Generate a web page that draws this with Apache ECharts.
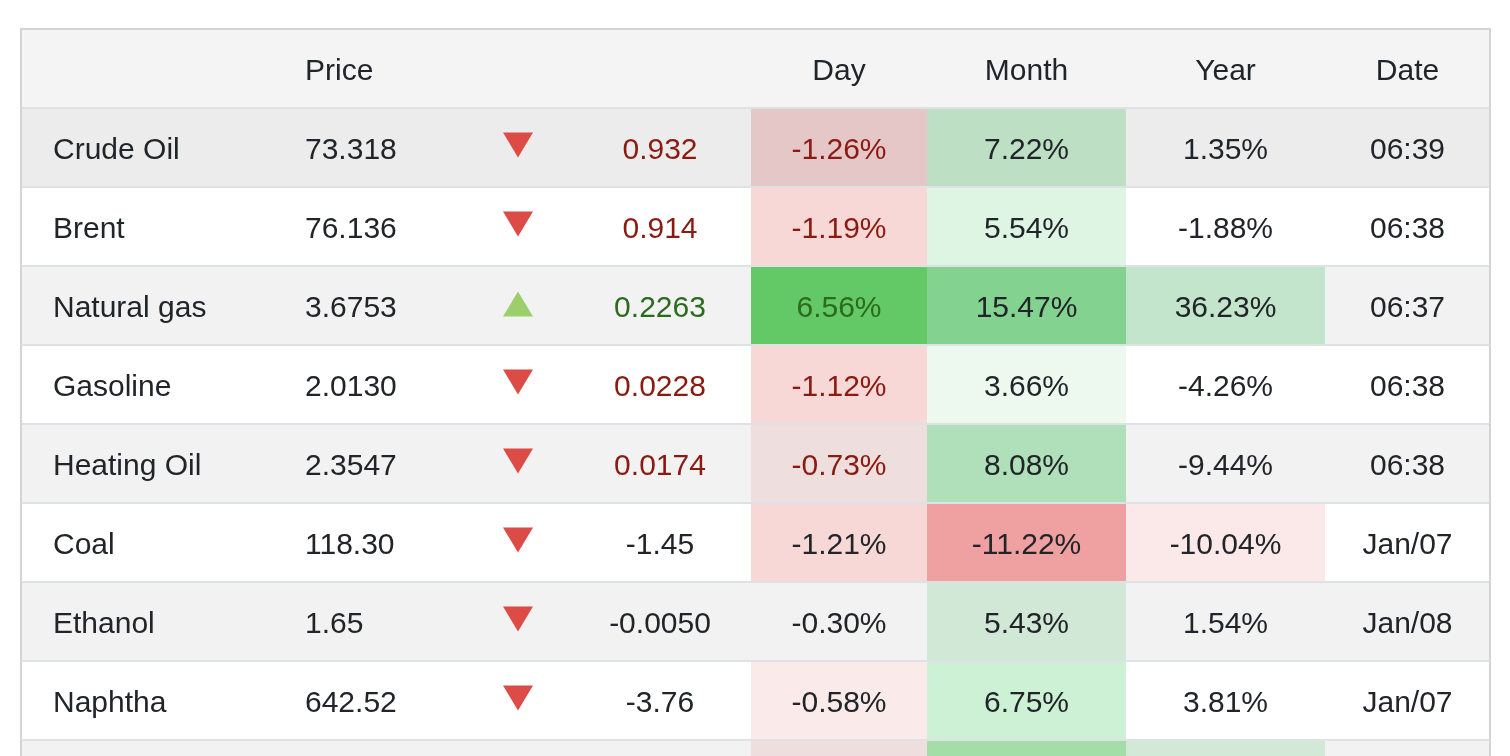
<!DOCTYPE html>
<html>
<head>
<meta charset="utf-8">
<script src="https://cdn.jsdelivr.net/npm/echarts@6/dist/echarts.min.js"></script>
<style>html,body{margin:0;padding:0;background:#fff}#c{width:1510px;height:756px}</style>
</head>
<body>
<div id="c"></div>
<script>
// ---- data ----
const headers = ['', 'Price', '', '', 'Day', 'Month', 'Year', 'Date'];
const names = ['Crude Oil', 'Brent', 'Natural gas', 'Gasoline', 'Heating Oil', 'Coal', 'Ethanol', 'Naphtha', 'Propane'];
const prices = ['73.318', '76.136', '3.6753', '2.0130', '2.3547', '118.30', '1.65', '642.52', '0.68'];
const changes = ['0.932', '0.914', '0.2263', '0.0228', '0.0174', '-1.45', '-0.0050', '-3.76', '-0.0045'];
const dayPct = [-1.26, -1.19, 6.56, -1.12, -0.73, -1.21, -0.30, -0.58, -0.65];
const monthPct = [7.22, 5.54, 15.47, 3.66, 8.08, -11.22, 5.43, 6.75, 9.60];
const yearPct = [1.35, -1.88, 36.23, -4.26, -9.44, -10.04, 1.54, 3.81, 14.20];
const dates = ['06:39', '06:38', '06:37', '06:38', '06:38', 'Jan/07', 'Jan/08', 'Jan/07', 'Jan/07'];
const updated = [true, true, true, true, true, false, false, false, false];
const hoverRow = 0;

// ---- layout / styles ----
const colWidths = [252, 194, 102, 182, 176, 199, 199, 165];
const edges = [0];
colWidths.forEach(w => edges.push(edges[edges.length - 1] + w));
const totalW = edges[edges.length - 1];
const GRID_TOP = 29, ROW_H = 79, CANVAS_H = 756, TEXT_DY = 3;
const visibleRows = (CANVAS_H - GRID_TOP) / ROW_H;
const FONT = '"Liberation Sans", Arial, Helvetica, sans-serif';
const TXT = '#212529', RED_TXT = '#8b1a10', GREEN_TXT = '#2c6a1d';

function dayColor(v) {
  if (v <= -1) return '#f8d7d7';
  if (v <= -0.5) return '#fbeaea';
  if (v >= 5) return '#69d46c';
  return null;
}
function monthColor(v) {
  if (v <= -10) return '#efa0a0';
  if (v >= 12) return '#8bde97';
  if (v >= 9) return '#aceab2';
  if (v >= 7.5) return '#baecc4';
  if (v >= 6.5) return '#cdf1d4';
  if (v >= 5) return '#def5e3';
  if (v >= 3) return '#edf9ef';
  return null;
}
function yearColor(v) {
  if (v <= -10) return '#fbe9e9';
  if (v >= 30) return '#cdf2d6';
  if (v >= 10) return '#def6e4';
  return null;
}
const pct = v => v.toFixed(2) + '%';

const rows = [0].concat(names.map((_, i) => i + 1));

function txt(x, y, s, align, fill) {
  return { type: 'text', x: x, y: y + TEXT_DY, style: { text: s, font: '30px ' + FONT, fill: fill || TXT, align: align, verticalAlign: 'middle' } };
}

function renderItem(params, api) {
  const r = api.value(0);
  const top = api.coord([0, r])[1];
  const bottom = api.coord([0, r + 1])[1];
  const h = bottom - top, mid = top + h / 2;
  const xs = edges.map(e => api.coord([e, r])[0]);
  const ch = [];
  ch.push({ type: 'rect', shape: { x: xs[0], y: top, width: xs[8] - xs[0], height: h }, style: { fill: r === 0 ? '#f4f4f4' : '#ffffff' } });
  const center = k => (xs[k] + xs[k + 1]) / 2;
  if (r === 0) {
    headers.forEach((hd, k) => {
      if (!hd) return;
      if (k === 1) ch.push(txt(xs[k] + 32, mid, hd, 'left'));
      else ch.push(txt(center(k), mid, hd, 'center'));
    });
  } else {
    const i = r - 1;
    [[4, dayColor(dayPct[i])], [5, monthColor(monthPct[i])], [6, yearColor(yearPct[i])]].forEach(([k, f]) => {
      if (f) ch.push({ type: 'rect', shape: { x: xs[k], y: top, width: xs[k + 1] - xs[k], height: h }, style: { fill: f } });
    });
    let a = 0;
    if (i === hoverRow) a = 0.075; else if (i % 2 === 0) a = 0.05;
    if (a) ch.push({ type: 'rect', shape: { x: xs[0], y: top, width: xs[8] - xs[0], height: h }, style: { fill: 'rgba(0,0,0,' + a + ')' } });
    const up = dayPct[i] > 0;
    const accent = updated[i] ? (up ? GREEN_TXT : RED_TXT) : TXT;
    const ax = center(2);
    if (up) {
      const cy = mid - 1;
      ch.push({ type: 'polygon', shape: { points: [[ax, cy - 13], [ax - 15, cy + 12], [ax + 15, cy + 12]] }, style: { fill: '#9ccf6c' } });
    } else {
      const cy = mid - 2;
      ch.push({ type: 'polygon', shape: { points: [[ax - 15, cy - 13], [ax + 15, cy - 13], [ax, cy + 12]] }, style: { fill: '#dc4b45' } });
    }
    ch.push(txt(xs[0] + 32, mid, names[i], 'left'));
    ch.push(txt(xs[1] + 32, mid, prices[i], 'left'));
    ch.push(txt(center(3), mid, changes[i], 'center', accent));
    ch.push(txt(center(4), mid, pct(dayPct[i]), 'center', accent));
    ch.push(txt(center(5), mid, pct(monthPct[i]), 'center'));
    ch.push(txt(center(6), mid, pct(yearPct[i]), 'center'));
    ch.push(txt(center(7), mid, dates[i], 'center'));
    ch.push({ type: 'line', shape: { x1: xs[0], y1: top, x2: xs[8], y2: top }, style: { stroke: '#dee2e6', lineWidth: 2 } });
  }
  if (r === 0) ch.push({ type: 'line', shape: { x1: xs[0] - 1, y1: top, x2: xs[8] + 1, y2: top }, style: { stroke: '#d4d4d4', lineWidth: 2 } });
  ch.push({ type: 'line', shape: { x1: xs[0], y1: top - (r === 0 ? 1 : 0), x2: xs[0], y2: bottom }, style: { stroke: '#d4d4d4', lineWidth: 2 } });
  ch.push({ type: 'line', shape: { x1: xs[8], y1: top - (r === 0 ? 1 : 0), x2: xs[8], y2: bottom }, style: { stroke: '#d4d4d4', lineWidth: 2 } });
  return { type: 'group', children: ch };
}

const chart = echarts.init(document.getElementById('c'), null, { renderer: 'canvas' });
chart.setOption({
  animation: false,
  backgroundColor: '#ffffff',
  grid: { left: 21, top: GRID_TOP, width: totalW, bottom: 0 },
  xAxis: { type: 'value', min: 0, max: totalW, show: false },
  yAxis: { type: 'value', min: 0, max: visibleRows, inverse: true, show: false },
  series: [{
    type: 'custom',
    clip: false,
    renderItem: renderItem,
    encode: { y: 0 },
    data: rows.map(r => [r])
  }]
});
</script>
</body>
</html>
